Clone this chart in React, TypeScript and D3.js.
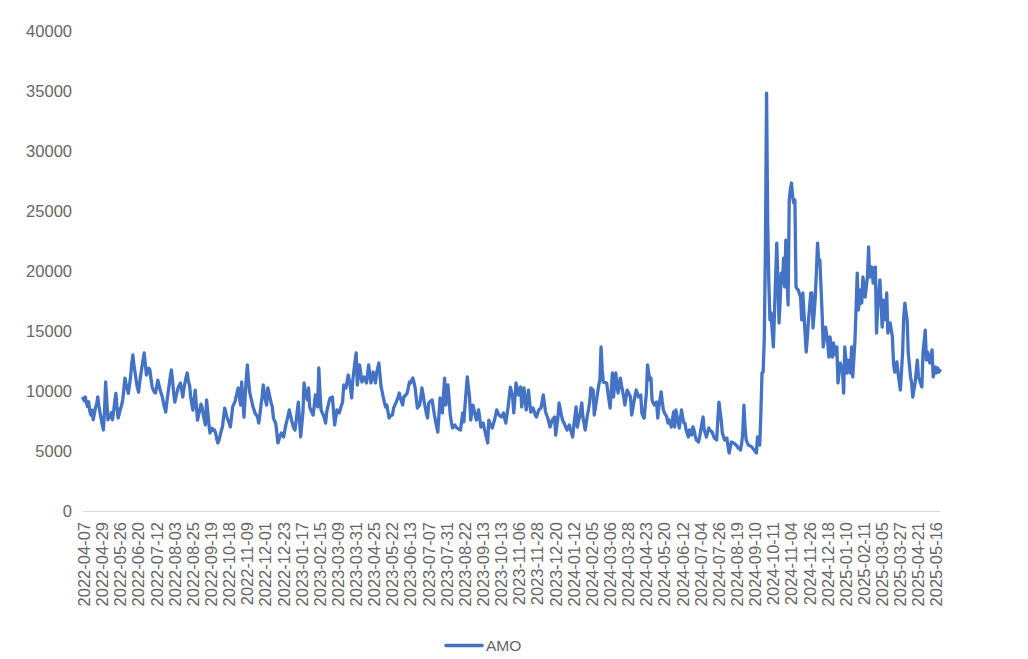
import React from 'react';
import * as d3 from 'd3';

const xLabels: string[] = [
  '2022-04-07', '2022-04-29', '2022-05-26', '2022-06-20', '2022-07-12', '2022-08-03', '2022-08-25', '2022-09-19',
  '2022-10-18', '2022-11-09', '2022-12-01', '2022-12-23', '2023-01-17', '2023-02-15', '2023-03-09', '2023-03-31',
  '2023-04-25', '2023-05-22', '2023-06-13', '2023-07-07', '2023-07-31', '2023-08-22', '2023-09-13', '2023-10-13',
  '2023-11-06', '2023-11-28', '2023-12-20', '2024-01-12', '2024-02-05', '2024-03-06', '2024-03-28', '2024-04-23',
  '2024-05-20', '2024-06-12', '2024-07-04', '2024-07-26', '2024-08-19', '2024-09-10', '2024-10-11', '2024-11-04',
  '2024-11-26', '2024-12-18', '2025-01-10', '2025-02-11', '2025-03-05', '2025-03-27', '2025-04-21', '2025-05-16',
];

const labelStep = 16;

const yTicks: number[] = [0, 5000, 10000, 15000, 20000, 25000, 30000, 35000, 40000];

const seriesName = 'AMO';

const amo: number[] = [
  9400, 9200, 9500, 9000, 8700, 9100, 8300, 8000, 8400, 7600, 8100, 8600, 8900, 9500, 8800, 8200,
  7700, 7200, 6750, 8400, 10750, 9200, 7600, 8000, 7800, 8200, 7600, 8300, 9100, 9800, 8600, 7750,
  8100, 8500, 8800, 9250, 10100, 11080, 10600, 10200, 9800, 10500, 11200, 12300, 13000, 12100, 11500, 10800,
  10300, 9900, 10700, 11400, 12000, 12600, 13170, 12200, 11330, 11600, 11900, 11750, 11000, 10330, 10100, 9900,
  9830, 10400, 10900, 10500, 10100, 9800, 9500, 9000, 8600, 8250, 9100, 9800, 10500, 11200, 11750, 10900,
  9800, 9080, 9500, 9900, 10300, 10500, 10670, 10100, 9500, 10200, 10700, 11170, 11500, 10800, 10500, 9500,
  8900, 8400, 9300, 10080, 8800, 7580, 8000, 8400, 8900, 8670, 8100, 7600, 7170, 9250, 8300, 7300,
  6500, 6800, 6900, 6700, 6750, 6500, 6000, 5670, 5900, 6300, 6700, 7000, 7800, 8580, 8200, 7800,
  7580, 7300, 7000, 7800, 8670, 8900, 9080, 9500, 9900, 10250, 9500, 8830, 10750, 9300, 7830, 9400,
  11000, 12170, 10900, 9920, 9500, 9100, 8670, 8400, 8100, 8000, 7830, 7330, 8000, 8800, 9500, 10500,
  9800, 9200, 8830, 10250, 9900, 9400, 9000, 8670, 7750, 7500, 7330, 6500, 5670, 6000, 6300, 6500,
  6300, 6170, 6700, 7200, 7580, 8000, 8420, 8000, 7580, 7200, 6900, 6750, 7500, 8300, 9080, 7600,
  6170, 7200, 8170, 10670, 10000, 9500, 9250, 10250, 8670, 8400, 8200, 8000, 8800, 9670, 9200, 8670,
  11920, 10000, 8420, 8200, 8000, 7700, 7330, 8250, 8700, 9100, 9420, 9300, 9500, 8300, 7170, 7800,
  8420, 8300, 8170, 8500, 8800, 9080, 10500, 10400, 10250, 10800, 11330, 10800, 10250, 9420, 10920, 11700,
  12500, 13170, 10500, 11300, 12170, 11500, 10750, 11000, 11170, 10900, 10670, 11400, 12170, 11400, 10670, 11100,
  11580, 11100, 10670, 11500, 11900, 12330, 11300, 10330, 9900, 9420, 9000, 8670, 8830, 8300, 7750, 7900,
  8000, 8000, 8580, 8800, 9000, 9250, 9500, 9830, 9400, 9100, 8830, 9500, 9600, 9700, 9830, 10300,
  10750, 10670, 10900, 11080, 10700, 10250, 9400, 8580, 8700, 8830, 9500, 10250, 9700, 9080, 8600, 8100,
  7750, 9000, 9100, 9200, 9250, 8600, 8000, 7500, 7000, 6580, 8000, 9420, 8800, 8170, 9600, 11080,
  8830, 9700, 10500, 9200, 8000, 7400, 6920, 7050, 7170, 7000, 6920, 6850, 6800, 6750, 7500, 8170,
  7420, 8800, 10000, 11170, 10300, 9500, 7580, 8200, 8830, 8400, 8000, 7580, 8000, 8420, 7700, 7000,
  7200, 7330, 6900, 6500, 6100, 5670, 7580, 7300, 7100, 6920, 7250, 7580, 8000, 8420, 8170, 8000,
  7900, 7830, 8000, 8170, 7700, 7330, 8000, 8670, 9500, 10330, 9900, 9500, 8170, 9400, 10670, 10200,
  9670, 10000, 10330, 8670, 9500, 10250, 9300, 8420, 9200, 10080, 9100, 8250, 8400, 8580, 8300, 8000,
  7830, 8100, 8420, 8500, 8580, 9100, 9670, 9000, 8250, 8000, 7750, 7400, 7000, 7300, 7580, 7700,
  7830, 6330, 7100, 7830, 9000, 8500, 8000, 7580, 7400, 7170, 6950, 6750, 6950, 7170, 6800, 6500,
  6170, 7170, 7900, 8670, 7000, 7400, 7830, 8400, 9000, 7830, 7300, 6750, 7400, 8000, 8500, 9080,
  10250, 10150, 10080, 8000, 8600, 9250, 9900, 10500, 10920, 13670, 11800, 10750, 10700, 10700, 10670, 9900,
  9250, 8580, 10000, 11500, 9500, 10500, 11500, 10600, 9830, 10400, 11080, 10500, 10000, 9500, 8830, 9400,
  10080, 9900, 9700, 9500, 8000, 8500, 9080, 9600, 10080, 9800, 9500, 9600, 9670, 8170, 7900, 7750,
  8800, 9830, 12170, 11500, 10920, 11080, 9250, 9000, 8830, 8950, 9080, 7750, 8670, 9300, 9920, 9100,
  8420, 8170, 8000, 7830, 7330, 7580, 7300, 7000, 7600, 8250, 7000, 8420, 7900, 7420, 6920, 7700,
  8420, 7800, 7330, 7330, 6750, 6450, 6170, 6750, 6550, 6330, 7000, 6750, 6300, 5920, 5850, 5750,
  6200, 6750, 7300, 7830, 6750, 6450, 6170, 6550, 6920, 6750, 6650, 6580, 6300, 6080, 6000, 5920,
  7580, 9080, 8300, 7580, 6500, 6200, 5920, 6000, 6080, 5400, 4830, 5300, 5750, 5700, 5670, 5600,
  5500, 5400, 5250, 5300, 5080, 5600, 6500, 8830, 7000, 5920, 5700, 5500, 5450, 5400, 5330, 5200,
  5080, 4950, 4830, 6170, 5600, 5500, 8200, 11500, 11600, 14400, 22000, 34830, 24000, 19000, 15920, 16500,
  15000, 13670, 16500, 19500, 22330, 19250, 15670, 17500, 19830, 19000, 21080, 18670, 22580, 19500, 17170, 25920,
  26800, 27330, 26200, 25670, 25920, 18670, 18500, 18420, 18100, 17830, 15920, 18170, 16500, 14800, 13250, 14500,
  15920, 17000, 18170, 18170, 15250, 16500, 17830, 20000, 22330, 20750, 20920, 18700, 16500, 13670, 14500, 15330,
  14700, 14000, 12830, 14500, 13700, 12830, 14000, 13500, 13000, 13670, 10670, 11500, 12330, 12000, 11750, 9830,
  13670, 12600, 11500, 12580, 12200, 11500, 13670, 11170, 12700, 14250, 17000, 19830, 16750, 17600, 18420, 17330,
  19500, 18700, 17830, 18700, 19500, 22000, 19500, 19900, 20330, 19000, 19700, 20330, 14830, 17000, 18100, 19250,
  17300, 15330, 17580, 16700, 15920, 18170, 14830, 15200, 15670, 15100, 14500, 12330, 11580, 12000, 12420, 11500,
  10800, 10080, 11600, 13170, 16170, 17330, 16600, 15920, 13170, 12200, 11170, 10670, 9500, 10100, 10670, 11600,
  12580, 11170, 10920, 10600, 10330, 13170, 14100, 15080, 12580, 13250, 12800, 12330, 12900, 13420, 11170, 11600,
  12000, 11500, 11920, 11580, 11700,
];

const W = 1028;
const H = 659;
const plot = { left: 83, right: 940, top: 31, bottom: 511 };
const lineColor = '#4472C4';
const textColor = '#666666';
const font = "'Liberation Sans', Arial, Helvetica, sans-serif";

export default function App() {
  const x = d3.scaleLinear().domain([0, amo.length - 1]).range([plot.left, plot.right]);
  const y = d3.scaleLinear().domain([0, 40000]).range([plot.bottom, plot.top]);
  const line = d3
    .line<number>()
    .x((_, i) => x(i))
    .y((d) => y(d));

  return (
    <svg
      width={W}
      height={H}
      style={{ position: 'absolute', left: 0, top: 0, background: '#ffffff' }}
      fontFamily={font}
    >
      {yTicks.map((t) => (
        <text
          key={t}
          x={72}
          y={y(t)}
          textAnchor="end"
          dominantBaseline="central"
          fontSize={16.5}
          fill={textColor}
        >
          {t}
        </text>
      ))}
      <line
        x1={plot.left}
        x2={plot.right}
        y1={plot.bottom + 0.5}
        y2={plot.bottom + 0.5}
        stroke="#d9d9d9"
        strokeWidth={1}
      />
      {xLabels.map((l, k) => (
        <text
          key={l}
          transform={`translate(${x(k * labelStep) + 1},${plot.bottom + 11}) rotate(-90)`}
          textAnchor="end"
          dominantBaseline="central"
          fontSize={16.5}
          fill={textColor}
        >
          {l}
        </text>
      ))}
      <path
        d={line(amo) || ''}
        fill="none"
        stroke={lineColor}
        strokeWidth={3.3}
        strokeLinejoin="round"
        strokeLinecap="round"
      />
      <g>
        <line x1={446} x2={482} y1={645.5} y2={645.5} stroke={lineColor} strokeWidth={3.5} strokeLinecap="round" />
        <text x={486} y={645.5} dominantBaseline="central" fontSize={15.5} fill={textColor}>
          {seriesName}
        </text>
      </g>
    </svg>
  );
}
